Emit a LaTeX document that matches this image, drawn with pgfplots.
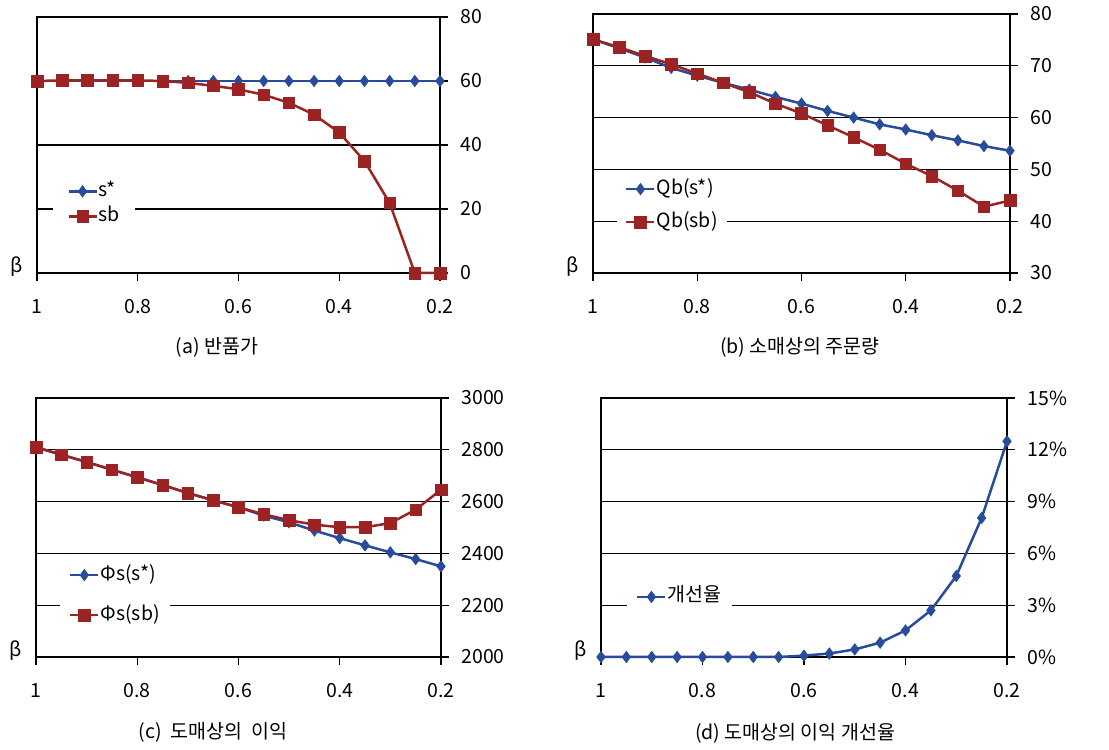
\documentclass[border=0pt]{standalone}
\usepackage{pgfplots}
\pgfplotsset{compat=1.18}
\usepackage{fontspec}
\setmainfont{Noto Sans CJK KR}
\definecolor{sblue}{RGB}{40,75,155}
\definecolor{sred}{RGB}{155,35,35}
\newcommand{\fs}{\fontsize{19.5}{22}\selectfont}
\pgfplotsset{
 panel/.style={
  scale only axis,
  x dir=reverse, xmin=0.2, xmax=1, xtick={1,0.8,0.6,0.4,0.2},
  axis line style={black, line width=1.2pt},
  ymajorgrids, grid style={black, line width=1.2pt},
  xtick pos=bottom, ytick pos=right, yticklabel pos=right,
  tick align=outside, major tick length=8pt, tick style={black,line width=1.2pt},
  /pgf/number format/assume math mode=true,
  /pgf/number format/1000 sep={},
  ticklabel style={font=\fs},
  xticklabel style={yshift=-15pt},
  yticklabel style={xshift=9pt},
  clip=false,
  legend cell align=left,
  legend style={draw=none, fill=white, font=\fs, anchor=west,
     nodes={inner sep=1pt, text height=14pt, text depth=4pt}},
  legend image code/.code={\draw[mark repeat=2,mark phase=2] plot coordinates {(0pt,0pt) (14pt,0pt) (28pt,0pt)};},
  label style={font=\fs},
 },
 ser1/.style={color=sblue, line width=2.5pt, mark=diamond*, mark size=5.8pt, mark options={solid, line width=0.5pt}},
 ser2/.style={color=sred, line width=2.5pt, mark=square*, mark size=5.8pt, mark options={solid, line width=0.5pt}},
}
\begin{document}
\begin{tikzpicture}[x=1pt,y=1pt]
\path[use as bounding box] (0,0) rectangle (1109,750);
% (a)
\begin{axis}[panel, at={(37pt,477pt)}, anchor=south west, width=403pt, height=256pt,
  ymin=0, ymax=80, ytick={0,20,40,60,80},
  xlabel={(a) 반품가}, xlabel style={at={(axis description cs:0.447,0)}, anchor=center, yshift=-74pt},
  legend style={at={(rel axis cs:0.04,0.27)}, inner xsep=14pt, inner ysep=3pt, row sep=5pt}]
\addplot[ser1] coordinates {(1,60)(0.95,60)(0.9,60)(0.85,60)(0.8,60)(0.75,60)(0.7,60)(0.65,60)(0.6,60)(0.55,60)(0.5,60)(0.45,60)(0.4,60)(0.35,60)(0.3,60)(0.25,60)(0.2,60)};
\addplot[ser2] coordinates {(1,60)(0.95,60.2)(0.9,60.2)(0.85,60.2)(0.8,60.2)(0.75,60)(0.7,59.4)(0.65,58.5)(0.6,57.4)(0.55,55.7)(0.5,53.2)(0.45,49.5)(0.4,43.9)(0.35,35)(0.3,21.9)(0.25,0)(0.2,0)};
\legend{s*,sb}
\node[font=\fs] at (rel axis cs:0,0) [xshift=-20pt, yshift=6pt] {β};
\end{axis}
% (b)
\begin{axis}[panel, at={(593pt,477pt)}, anchor=south west, width=417pt, height=259pt,
  ymin=30, ymax=80, ytick={30,40,50,60,70,80},
  xlabel={(b) 소매상의 주문량}, xlabel style={at={(axis description cs:0.496,0)}, anchor=center, yshift=-74pt},
  legend style={at={(rel axis cs:0.0576,0.26)}, inner xsep=8pt, inner ysep=3pt, row sep=13pt}]
\addplot[ser1] coordinates {(1,75.1)(0.95,73.4)(0.9,71.6)(0.85,69.6)(0.8,68.1)(0.75,66.7)(0.7,65.4)(0.65,64)(0.6,62.7)(0.55,61.3)(0.5,60)(0.45,58.7)(0.4,57.7)(0.35,56.6)(0.3,55.6)(0.25,54.5)(0.2,53.6)};
\addplot[ser2] coordinates {(1,75.1)(0.95,73.6)(0.9,71.9)(0.85,70.3)(0.8,68.5)(0.75,66.7)(0.7,64.9)(0.65,62.7)(0.6,60.8)(0.55,58.5)(0.5,56.2)(0.45,53.8)(0.4,51.1)(0.35,48.7)(0.3,45.9)(0.25,42.8)(0.2,44)};
\legend{Qb(s*),Qb(sb)}
\node[font=\fs] at (rel axis cs:0,0) [xshift=-20pt, yshift=6pt] {β};
\end{axis}
% (c)
\begin{axis}[panel, at={(36pt,93pt)}, anchor=south west, width=405pt, height=259pt,
  ymin=2000, ymax=3000, ytick={2000,2200,2400,2600,2800,3000},
  xlabel={(c)\ \ 도매상의\ \ 이익}, xlabel style={at={(axis description cs:0.437,0)}, anchor=center, yshift=-75pt},
  legend style={at={(rel axis cs:0.059,0.239)}, inner xsep=9pt, inner ysep=3pt, row sep=20pt}]
\addplot[ser1] coordinates {(1,2810)(0.95,2781)(0.9,2753)(0.85,2723)(0.8,2694)(0.75,2664)(0.7,2633)(0.65,2605)(0.6,2578)(0.55,2546)(0.5,2520)(0.45,2488)(0.4,2459)(0.35,2431)(0.3,2404)(0.25,2378)(0.2,2350)};
\addplot[ser2] coordinates {(1,2810)(0.95,2781)(0.9,2753)(0.85,2723)(0.8,2694)(0.75,2664)(0.7,2633)(0.65,2605)(0.6,2578)(0.55,2551)(0.5,2528)(0.45,2511)(0.4,2501)(0.35,2501)(0.3,2517)(0.25,2569)(0.2,2646)};
\legend{Φs(s*),Φs(sb)}
\node[font=\fs] at (rel axis cs:0,0) [xshift=-20pt, yshift=6pt] {β};
\end{axis}
% (d)
\begin{axis}[panel, at={(601pt,93pt)}, anchor=south west, width=406pt, height=259pt,
  ymin=0, ymax=15, ytick={0,3,6,9,12,15},
  yticklabel={\pgfmathprintnumber{\tick}\%},
  xlabel={(d) 도매상의 이익 개선율}, xlabel style={at={(axis description cs:0.478,0)}, anchor=center, yshift=-76pt},
  legend style={at={(rel axis cs:0.064,0.232)}, inner xsep=9pt, inner ysep=3pt}]
\addplot[ser1] coordinates {(1,0)(0.95,0)(0.9,0)(0.85,0)(0.8,0)(0.75,0)(0.7,0)(0.65,0)(0.6,0.08)(0.55,0.2)(0.5,0.44)(0.45,0.83)(0.4,1.54)(0.35,2.7)(0.3,4.69)(0.25,8.05)(0.2,12.49)};
\legend{개선율}
\node[font=\fs] at (rel axis cs:0,0) [xshift=-20pt, yshift=6pt] {β};
\end{axis}
\end{tikzpicture}
\end{document}
